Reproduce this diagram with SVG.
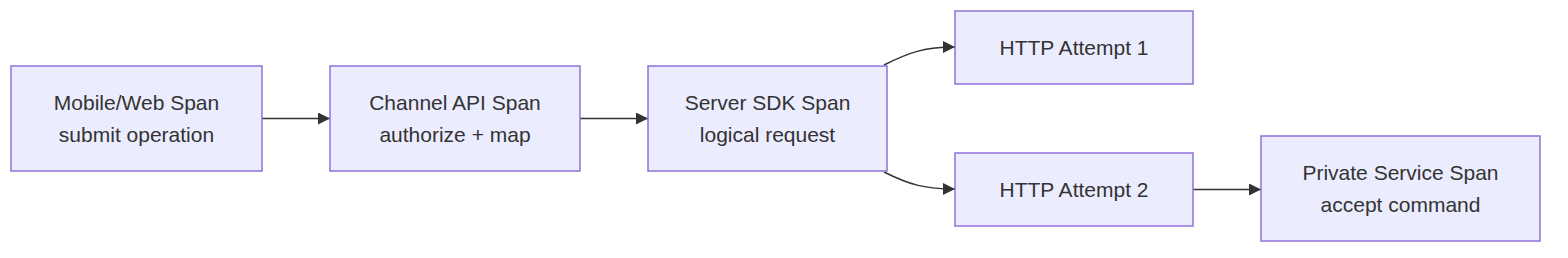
<svg xmlns="http://www.w3.org/2000/svg" width="1568" height="258" viewBox="0 0 1568 258">
<style>
.node rect{fill:#ECECFF;stroke:#9370DB;stroke-width:1.5px}
.node text{font-family:"Trebuchet MS","Liberation Sans",Arial,sans-serif;font-size:21px;fill:#333;text-anchor:middle}
.edge{fill:none;stroke:#333;stroke-width:1.5px}
</style>
<defs>
<marker id="arrow" viewBox="0 0 10 10" refX="10" refY="5" markerUnits="userSpaceOnUse" markerWidth="12" markerHeight="12" orient="auto">
<path d="M0,0 L10,5 L0,10 z" fill="#333"/>
</marker>
</defs>
<g id="connectors">
<path class="edge" d="M262,118.5 L330,118.5" marker-end="url(#arrow)"/>
<path class="edge" d="M580,118.5 L648,118.5" marker-end="url(#arrow)"/>
<path class="edge" d="M884,65 C910,52 925,47 955,47" marker-end="url(#arrow)"/>
<path class="edge" d="M884,172 C910,185 925,189 955,189" marker-end="url(#arrow)"/>
<path class="edge" d="M1193,189.5 L1261,189.5" marker-end="url(#arrow)"/>
</g>
<g id="n1" class="node"><rect x="11" y="66" width="251" height="105"/><text x="136.5" y="110">Mobile/Web Span</text><text x="136.5" y="142">submit operation</text></g>
<g id="n2" class="node"><rect x="330" y="66" width="250" height="105"/><text x="455" y="110">Channel API Span</text><text x="455" y="142">authorize + map</text></g>
<g id="n3" class="node"><rect x="648" y="66" width="239" height="105"/><text x="767.5" y="110">Server SDK Span</text><text x="767.5" y="142">logical request</text></g>
<g id="n4" class="node"><rect x="955" y="11" width="238" height="73"/><text x="1074" y="55">HTTP Attempt 1</text></g>
<g id="n5" class="node"><rect x="955" y="153" width="238" height="73"/><text x="1074" y="197">HTTP Attempt 2</text></g>
<g id="n6" class="node"><rect x="1261" y="136" width="279" height="105"/><text x="1400.5" y="180">Private Service Span</text><text x="1400.5" y="212">accept command</text></g>
</svg>
